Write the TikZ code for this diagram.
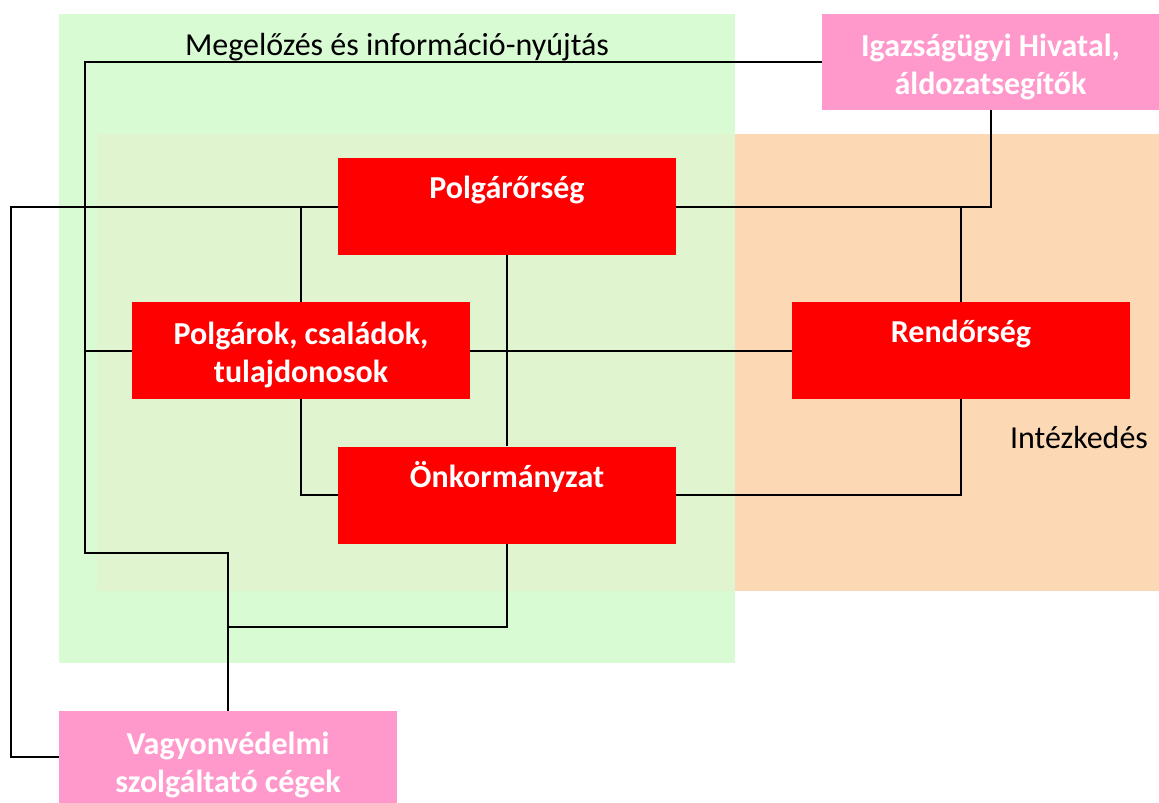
\documentclass[tikz,border=0pt]{standalone}
\usepackage{fontspec}
\setmainfont{Carlito}
\definecolor{bggreen}{RGB}{216,251,212}
\definecolor{bgorange}{RGB}{252,216,180}
\definecolor{bgmix}{RGB}{224,245,207}
\definecolor{boxred}{RGB}{255,0,0}
\definecolor{boxpink}{RGB}{255,153,204}
\tikzset{
  redbox/.style={draw=none, fill=boxred, minimum width=338pt, minimum height=97pt, inner sep=0pt},
  pinkbox/.style={draw=none, fill=boxpink, minimum width=337pt, minimum height=96pt, inner sep=0pt},
  boxtext/.style={text=white, font=\fontsize{32}{38}\selectfont\bfseries, inner sep=0pt, anchor=base},
  areatext/.style={text=black, font=\fontsize{32}{38}\selectfont, inner sep=0pt, anchor=base},
  conn/.style={draw=black, line width=2pt}
}
\begin{document}
\begin{tikzpicture}[x=1pt, y=-1pt]
\useasboundingbox (0,0) rectangle (1159,803);
% background areas
\fill[bggreen] (59,14) rectangle (735,663);
\fill[bgorange] (97,134) rectangle (1159,591);
\fill[bgmix] (97,134) rectangle (735,591);
\node[areatext] (lblMeg) at (397,55) {Megelőzés és információ-nyújtás};
\node[areatext] (lblInt) at (1079,448) {Intézkedés};
% boxes
\node[pinkbox] (igh) at (990.5,62) {};
\node[redbox] (polgaror) at (507,206.5) {};
\node[redbox] (polgarok) at (301,350.5) {};
\node[redbox] (rendor) at (961,350.5) {};
\node[redbox] (onk) at (507,495) {};
\node[pinkbox, minimum width=338pt, minimum height=92pt] (vagyon) at (228,757) {};
% box texts
\node[boxtext] (tIgh1) at ([yshift=-43pt]igh.north) {Igazságügyi Hivatal,};
\node[boxtext] (tIgh2) at ([yshift=-81pt]igh.north) {áldozatsegítők};
\node[boxtext] (tPolgaror) at ([yshift=-41pt]polgaror.north) {Polgárőrség};
\node[boxtext] (tPolgarok1) at ([yshift=-43pt]polgarok.north) {Polgárok, családok,};
\node[boxtext] (tPolgarok2) at ([yshift=-81pt]polgarok.north) {tulajdonosok};
\node[boxtext] (tRendor) at ([yshift=-41pt]rendor.north) {Rendőrség};
\node[boxtext] (tOnk) at ([yshift=-41pt]onk.north) {Önkormányzat};
\node[boxtext] (tVagyon1) at ([yshift=-44pt]vagyon.north) {Vagyonvédelmi};
\node[boxtext] (tVagyon2) at ([yshift=-82pt]vagyon.north) {szolgáltató cégek};
% helper coordinates
\coordinate (cTL) at (85,62);
\coordinate (cBL) at (85,553);
\coordinate (j1) at (228,553);
\coordinate (j2) at (228,627);
\coordinate (cFL) at (11,206.5);
% connectors
\draw[conn] (igh.west) -- (cTL) -- (cBL) -- (j1) -- (vagyon.north);
\draw[conn] (polgarok.west) -- (polgarok.west -| cTL);
\draw[conn] (polgaror.west) -- (cFL) |- (vagyon.west);
\draw[conn] (polgarok.north) -- (polgarok.north |- polgaror.west);
\draw[conn] (polgaror.east) -- (polgaror.east -| rendor.north) -- (rendor.north);
\draw[conn] (igh.south) |- (polgaror.east -| rendor.north);
\draw[conn] (polgarok.east) -- (rendor.west);
\draw[conn] (polgaror.south) -- (onk.north);
\draw[conn] (polgarok.south) |- (onk.west);
\draw[conn] (onk.east) -| (rendor.south);
\draw[conn] (onk.south) |- (j2);
\end{tikzpicture}
\end{document}
